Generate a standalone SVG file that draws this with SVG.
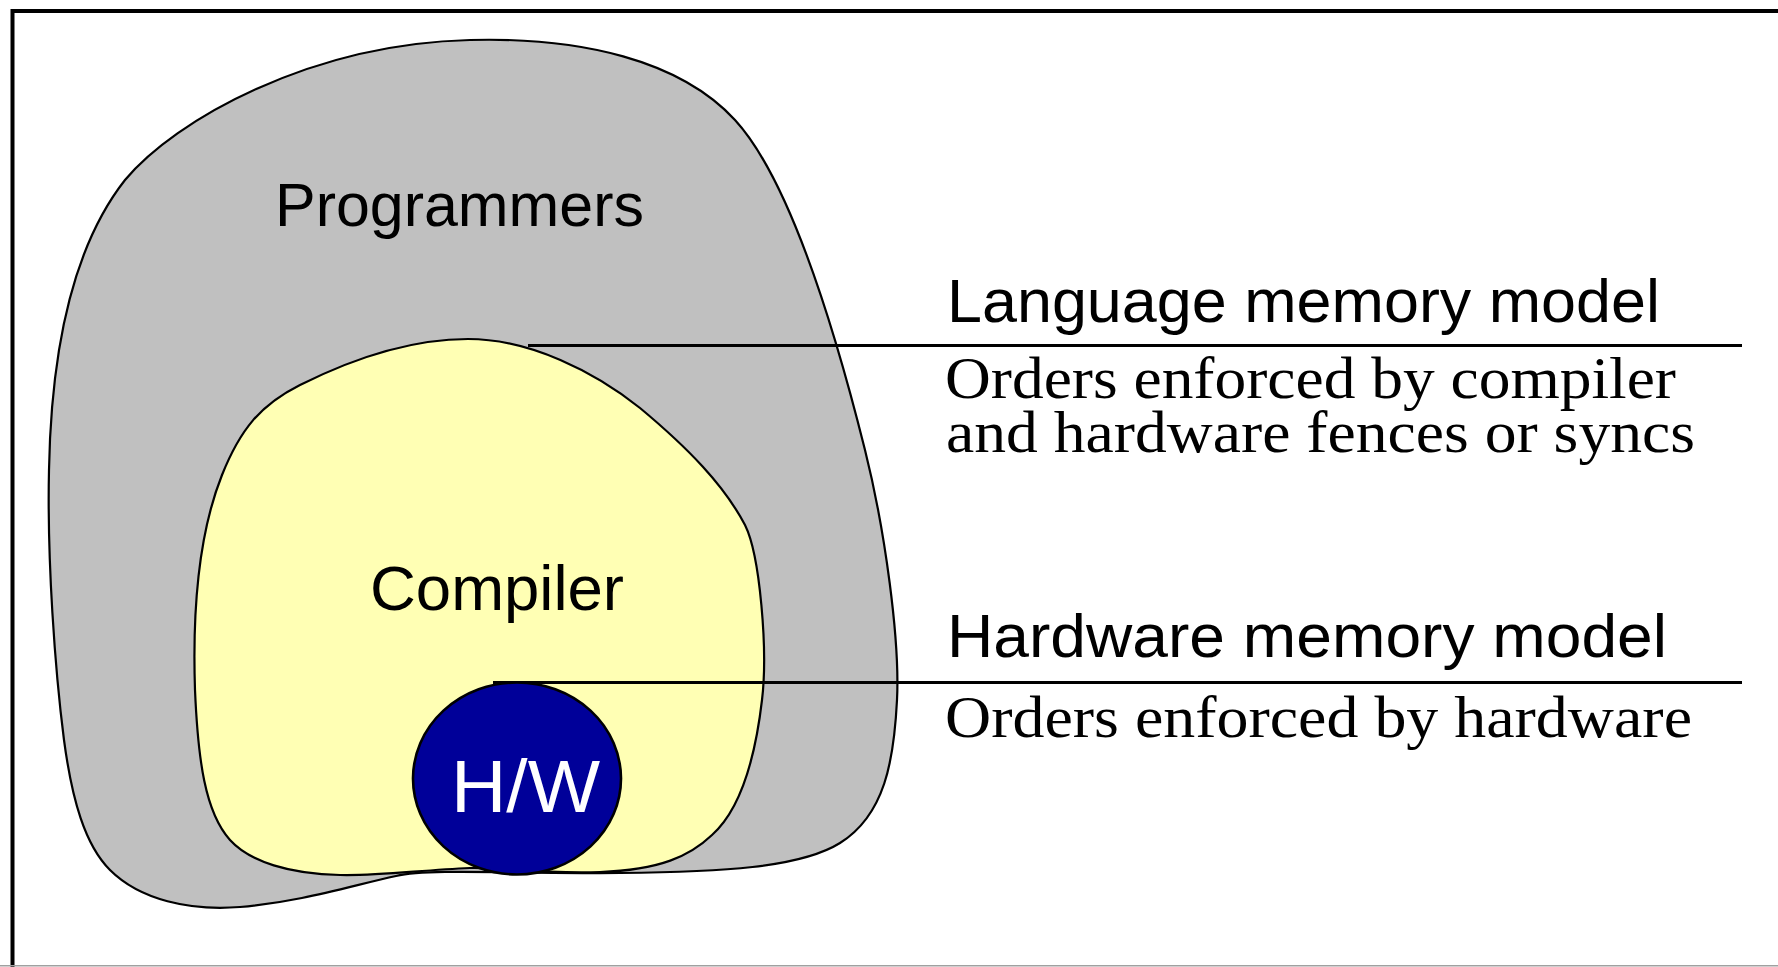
<svg xmlns="http://www.w3.org/2000/svg" width="1778" height="967" viewBox="0 0 1778 967">
  <style>
    .blob { stroke: #000; stroke-width: 2.2; stroke-linejoin: round; }
    .sans { font-family: "Liberation Sans", Arial, sans-serif; fill: #000; }
    .serif { font-family: "Liberation Serif", "Times New Roman", serif; fill: #000; font-size: 59px; }
    .rule { stroke: #000; stroke-width: 3.2; fill: none; }
  </style>

  <rect x="0" y="0" width="1778" height="967" fill="#fff"/>

  <!-- page frame: heavy top and left edges, thin bottom edge -->
  <g id="frame">
    <path d="M12.5,967 V11 H1778" fill="none" stroke="#000" stroke-width="4"/>
    <line x1="0" y1="965.8" x2="1778" y2="965.8" stroke="#a0a0a0" stroke-width="1.5"/>
  </g>

  <!-- outer region: programmers -->
  <g id="programmers">
    <path class="blob" fill="#c0c0c0" d="M470,40
      C580,37 680,60 735,120
      C790,180 835,330 865,450
      C885,530 900,640 897,700
      C894,760 885,815 840,843
      C800,868 720,872 620,873
      C520,874 430,868 396,876
      C350,886 300,902 240,907
      C190,911 140,900 110,870
      C85,845 72,800 64,740
      C55,670 47,560 49,470
      C51,360 70,250 125,180
      C175,120 310,44 470,40 Z"/>
    <text class="sans" x="275" y="226" font-size="62" textLength="369" lengthAdjust="spacingAndGlyphs">Programmers</text>
  </g>

  <!-- middle region: compiler -->
  <g id="compiler">
    <path class="blob" fill="#ffffb4" d="M468,339
      C530,339 595,372 640,408
      C688,448 724,485 745,525
      C760,555 768,650 762,700
      C755,760 740,810 712,835
      C690,856 660,870 600,872
      C540,874 500,867 470,868
      C420,870 380,876 340,875
      C290,874 250,862 230,840
      C205,812 198,760 195,690
      C192,600 200,530 222,475
      C240,430 260,405 300,385
      C350,360 410,339 468,339 Z"/>
    <text class="sans" x="370" y="610" font-size="63" textLength="254" lengthAdjust="spacingAndGlyphs">Compiler</text>
  </g>

  <!-- leader lines to the model captions -->
  <g id="connectors">
    <line class="rule" x1="528" y1="345.5" x2="1742" y2="345.5"/>
    <line class="rule" x1="493" y1="682.5" x2="1742" y2="682.5"/>
  </g>

  <!-- inner region: hardware -->
  <g id="hardware">
    <ellipse cx="517" cy="778.5" rx="104" ry="96" fill="#000099" stroke="#000" stroke-width="2.6"/>
    <text class="sans" x="451" y="812" font-size="74" style="fill:#fff" textLength="149" lengthAdjust="spacingAndGlyphs">H/W</text>
  </g>

  <!-- captions -->
  <g id="language-model">
    <text class="sans" x="947" y="322" font-size="62" textLength="713" lengthAdjust="spacingAndGlyphs">Language memory model</text>
    <text class="serif" x="945" y="398" textLength="731" lengthAdjust="spacingAndGlyphs">Orders enforced by compiler</text>
    <text class="serif" x="946" y="452" textLength="749" lengthAdjust="spacingAndGlyphs">and hardware fences or syncs</text>
  </g>

  <g id="hardware-model">
    <text class="sans" x="947" y="657" font-size="62" textLength="720" lengthAdjust="spacingAndGlyphs">Hardware memory model</text>
    <text class="serif" x="945" y="737" textLength="747" lengthAdjust="spacingAndGlyphs">Orders enforced by hardware</text>
  </g>
</svg>
